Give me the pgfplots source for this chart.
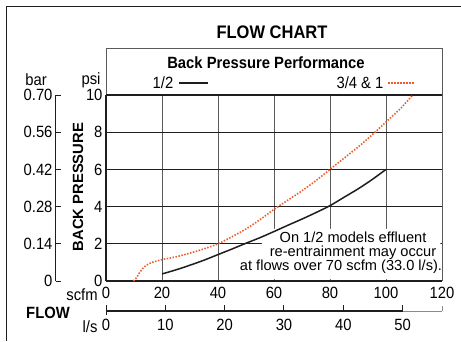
\documentclass[border=0pt]{standalone}
\usepackage{pgfplots}
\pgfplotsset{compat=1.18}
\usepackage{fontspec}
\setmainfont{Liberation Sans}

\definecolor{dots}{RGB}{240,90,40}
\definecolor{vgrid}{RGB}{90,90,90}
\definecolor{ink}{RGB}{30,30,30}

\pgfplotsset{every axis/.append style={
  scale only axis, anchor=south west, clip=false,
  tick label style={font=\fontsize{14.8}{17}\selectfont, yscale=1.1},
  /pgf/number format/assume math mode=true,
}}
\tikzset{txt/.style={yscale=1.1, font=\fontsize{14.8}{17}\selectfont}}

\begin{document}
\begin{tikzpicture}[x=1pt,y=1pt]
\useasboundingbox (0,0) rectangle (461,341);
\draw[ink, line width=1pt] (6,0) -- (6,334) -- (461,334);
\node[yscale=1.1, font=\fontsize{16.5}{19}\selectfont\bfseries] at (272,309) {FLOW CHART};

% header box with legend
\draw[vgrid, line width=1pt] (106,246) -- (106,292) -- (442,292) -- (442,60);
\node[txt, font=\fontsize{14.8}{17}\selectfont\bfseries] at (266,278) {Back Pressure Performance};
\node[txt] at (163,258) {1/2};
\draw[ink, line width=1.3pt] (179,258) -- (208,258);
\node[txt] at (360,258) {3/4 \& 1};
\draw[dots, line width=1.6pt, dash pattern=on 1.5pt off 1.5pt] (388,258) -- (415,258);

% main psi / scfm axis
\begin{axis}[at={(106pt,60pt)}, width=336pt, height=186pt,
  xmin=0, xmax=120, ymin=0, ymax=10,
  axis x line*=bottom, axis y line*=left,
  axis line style={-, ink, line width=1.6pt},
  xtick={0,20,...,120}, ytick={0,2,...,10},
  major tick length=0pt,
  xmajorgrids, major grid style={vgrid, line width=1pt},
  xticklabel style={yshift=-2pt},
]
\draw[ink, line width=1pt] (axis cs:0,2) -- (axis cs:120,2);
\draw[ink, line width=1pt] (axis cs:0,4) -- (axis cs:120,4);
\draw[ink, line width=1.6pt] (axis cs:0,6) -- (axis cs:120,6);
\draw[ink, line width=1pt] (axis cs:0,8) -- (axis cs:120,8);
\draw[ink, line width=1.6pt] (axis cs:0,10) -- (axis cs:120,10);
% white space behind the note
\fill[white] (axis cs:55.7,2.8) -- (axis cs:119.4,2.8) -- (axis cs:119.4,0.1)
  -- (axis cs:47.9,0.1) -- (axis cs:47.9,1.67) -- (axis cs:55.7,1.67) -- cycle;

% 1/2 model
\addplot[ink, line width=1.5pt, smooth] coordinates {
  (20,0.38) (25,0.6) (30,0.85) (35,1.12) (40,1.42) (45,1.72) (50,2.03)
  (55,2.33) (60,2.66) (65,3.0) (70,3.33) (75,3.68) (80,4.05) (85,4.5)
  (90,4.95) (95,5.45) (100,6.0)};
% 3/4 & 1 models
\addplot[dots, line width=1.6pt, dash pattern=on 1.5pt off 1.5pt, smooth] coordinates {
  (9.8,0) (11,0.2) (12,0.45) (13,0.65) (14,0.8) (15,0.9) (16,0.98) (18,1.07)
  (20,1.15) (25,1.3) (30,1.5) (35,1.73) (40,2.0) (45,2.38) (50,2.8)
  (55,3.3) (60,3.85) (65,4.35) (70,4.85) (75,5.4) (80,6.0) (85,6.6)
  (90,7.2) (95,7.85) (100,8.55) (105,9.25) (109.6,10)};
\end{axis}

% bar scale
\begin{axis}[at={(56pt,60pt)}, width=20pt, height=186pt,
  xmin=0, xmax=1, ymin=0, ymax=0.7,
  hide x axis, axis y line*=left,
  axis line style={-, ink, line width=1pt},
  ytick={0,0.14,0.28,0.42,0.56,0.7},
  yticklabels={0,0.14,0.28,0.42,0.56,0.70},
  tick align=inside, major tick length=5pt,
  tick style={ink, line width=1pt},
]
\end{axis}

% l/s scale
\begin{axis}[at={(106pt,30pt)}, width=336pt, height=10pt,
  xmin=0, xmax=56.633, ymin=0, ymax=1,
  hide y axis, axis x line*=bottom,
  axis line style={-, vgrid!70, line width=1pt},
  xtick={0,10,...,50},
  tick align=inside, major tick length=6pt,
  tick style={ink, line width=1pt},
  xticklabel style={yshift=-4pt},
]
\draw[ink, line width=1.8pt] (axis cs:0,0) -- (axis cs:50,0);
\draw[ink, line width=1pt] (axis cs:0,0) -- ++(0pt,-4pt);
\draw[vgrid!70, line width=1pt] (axis cs:56.633,0) -- ++(0pt,5pt);
\end{axis}

\node[txt] at (36,261) {bar};
\node[txt] at (91,261) {psi};
\node[rotate=90, font=\fontsize{14.8}{17}\selectfont\bfseries] at (78,154) {BACK PRESSURE};
\node[txt] at (82,46) {scfm};
\node[txt, font=\fontsize{14.8}{17}\selectfont\bfseries] at (48,28) {FLOW};
\node[txt] at (90,14) {l/s};

\node[font=\fontsize{14.6}{14}\selectfont, align=center, inner sep=0pt] at (353,88)
  {On 1/2 models effluent\\re-entrainment may occur\\at flows over 70 scfm (33.0 l/s).\hspace*{24pt}};
\end{tikzpicture}
\end{document}
